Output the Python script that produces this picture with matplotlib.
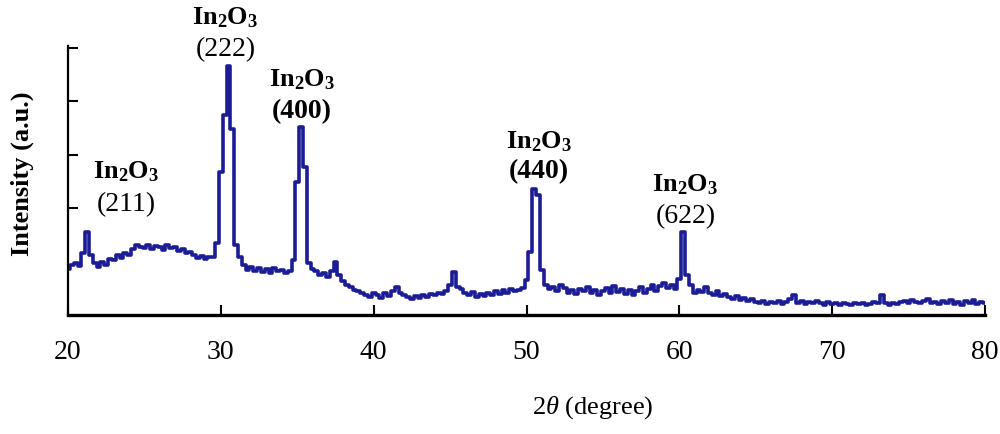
#! /usr/bin/env python3

import numpy as np
import matplotlib
matplotlib.use("Agg")
import matplotlib.pyplot as plt

plt.rcParams["font.family"] = ["Liberation Serif", "DejaVu Serif"]
plt.rcParams["mathtext.fontset"] = "custom"
plt.rcParams["mathtext.rm"] = "Liberation Serif"
plt.rcParams["mathtext.it"] = "Liberation Serif:italic"
plt.rcParams["mathtext.bf"] = "Liberation Serif:bold"

# 2theta grid, 0.25 degree steps from 20 to 80
two_theta_start = 20.0
two_theta_step = 0.25

# intensity (a.u.), one row per 2 degrees
intensity = [
    46, 50, 52, 49, 62, 83, 60, 52,       # 20
    48, 53, 50, 56, 55, 60, 57, 62,       # 22
    60, 66, 70, 68, 67, 70, 66, 69,       # 24
    68, 65, 70, 67, 68, 64, 66, 62,       # 26
    63, 60, 57, 59, 56, 58, 58, 72,       # 28
    143, 200, 249, 186, 70, 58, 50, 45,   # 30
    48, 44, 47, 43, 46, 42, 47, 44,       # 32
    45, 42, 44, 55, 133, 188, 148, 52,    # 34
    46, 44, 40, 42, 38, 44, 53, 40,       # 36
    34, 30, 28, 25, 24, 22, 20, 18,       # 38
    22, 20, 17, 22, 19, 24, 28, 22,       # 40
    20, 18, 16, 19, 17, 20, 18, 21,       # 42
    20, 22, 21, 24, 30, 43, 28, 26,       # 44
    22, 20, 23, 18, 21, 19, 22, 20,       # 46
    24, 21, 25, 22, 26, 24, 25, 27,       # 48
    35, 63, 126, 120, 45, 30, 26, 28,     # 50
    24, 30, 27, 22, 25, 21, 26, 24,       # 52
    28, 22, 25, 20, 24, 27, 22, 29,       # 54
    23, 26, 21, 25, 20, 24, 28, 22,       # 56
    26, 30, 24, 29, 32, 27, 30, 26,       # 58
    36, 83, 40, 30, 22, 25, 23, 28,       # 60
    22, 20, 24, 19, 21, 18, 16, 19,       # 62
    15, 17, 14, 16, 13, 12, 14, 11,       # 64
    13, 12, 14, 11, 13, 16, 20, 12,       # 66
    14, 11, 13, 12, 14, 12, 10, 13,       # 68
    11, 12, 10, 12, 11, 10, 12, 11,       # 70
    12, 10, 11, 13, 12, 20, 12, 10,       # 72
    12, 11, 13, 14, 12, 15, 13, 12,       # 74
    14, 16, 12, 13, 11, 14, 12, 15,       # 76
    11, 13, 10, 14, 12, 15, 11, 13,       # 78
    12,                                   # 80
]

# peak labels: position (2theta, intensity) for formula and hkl lines
peak_hkl = ["(211)", "(222)", "(400)", "(440)", "(622)"]
peak_x = [23.8, 30.3, 35.3, 50.8, 60.4]
formula_y = [144, 298, 236, 174, 131]
hkl_y = [111, 266, 204, 144, 99]
hkl_bold = [False, False, True, True, False]

x_ticks = [20, 30, 40, 50, 60, 70, 80]
y_ticks = [107, 160, 214, 267]

two_theta = two_theta_start + two_theta_step * np.arange(len(intensity))

fig = plt.figure(figsize=(10, 4.35), dpi=100)
ax = fig.add_axes([0.068, 0.2736, 0.917, 0.6184])

ax.plot(two_theta, intensity, color="#1c1c96", lw=2.6, drawstyle="steps-mid")

ax.set_xlim(20, 80)
ax.set_ylim(0, 269)
ax.set_xticks(x_ticks)
ax.set_yticks(y_ticks)
ax.set_yticklabels([])
ax.tick_params(axis="both", direction="in", length=7, width=1.5, colors="black")
ax.tick_params(axis="x", labelsize=20, pad=17)
ax.spines["top"].set_visible(False)
ax.spines["right"].set_visible(False)
ax.spines["left"].set_linewidth(1.6)
ax.spines["bottom"].set_linewidth(2.4)

for x, fy, hy, hkl, bold in zip(peak_x, formula_y, hkl_y, peak_hkl, hkl_bold):
    ax.text(x, fy, r"$\mathbf{In_2O_3}$", ha="center", va="center",
            fontsize=19, clip_on=False)
    ax.text(x, hy, hkl, ha="center", va="center", fontsize=20,
            fontweight="bold" if bold else "normal", clip_on=False)

fig.text(0.022, 0.60, "Intensity (a.u.)", rotation=90, ha="center",
         va="center", fontsize=19, fontweight="bold")
fig.text(0.593, 0.062, r"$2\theta$ (degree)", ha="center", va="center",
         fontsize=19)

fig.savefig("out.png", dpi=100)
